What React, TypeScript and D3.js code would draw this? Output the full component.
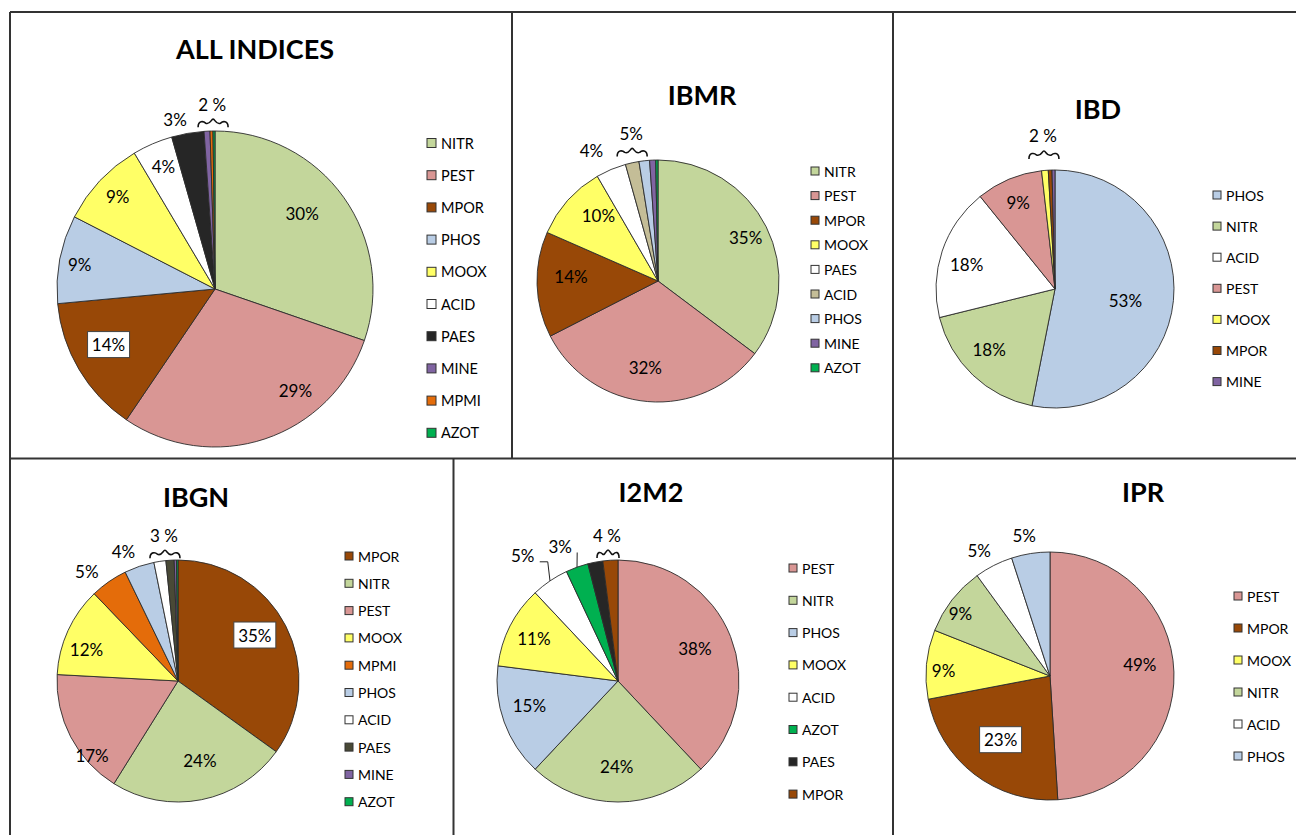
import React, { useEffect, useRef } from "react";
import * as d3 from "d3";

const W = 1296;
const H = 835;
const FONT = "Lato, 'Open Sans', sans-serif";

// ALL INDICES
const allCats = ["NITR", "PEST", "MPOR", "PHOS", "MOOX", "ACID", "PAES", "MINE", "MPMI", "AZOT"];
const allVals = [30.2, 29.1, 14.0, 9.0, 8.9, 4.1, 3.3, 0.6, 0.3, 0.2];
const allPcts = ["30%", "29%", "14%", "9%", "9%", "4%", "3%", "", "", ""];

// IBMR
const ibmrCats = ["NITR", "PEST", "MPOR", "MOOX", "PAES", "ACID", "PHOS", "MINE", "AZOT"];
const ibmrVals = [35.0, 32.0, 14.0, 10.0, 4.0, 1.8, 1.4, 0.8, 0.3];
const ibmrPcts = ["35%", "32%", "14%", "10%", "4%", "", "", "", ""];

// IBD
const ibdCats = ["PHOS", "NITR", "ACID", "PEST", "MOOX", "MPOR", "MINE"];
const ibdVals = [53.0, 18.0, 18.0, 9.0, 0.9, 0.5, 0.4];
const ibdPcts = ["53%", "18%", "18%", "9%", "", "", ""];

// IBGN
const ibgnCats = ["MPOR", "NITR", "PEST", "MOOX", "MPMI", "PHOS", "ACID", "PAES", "MINE", "AZOT"];
const ibgnVals = [35.0, 24.0, 17.0, 12.0, 5.0, 4.0, 1.6, 1.1, 0.3, 0.2];
const ibgnPcts = ["35%", "24%", "17%", "12%", "5%", "4%", "", "", "", ""];

// I2M2
const i2m2Cats = ["PEST", "NITR", "PHOS", "MOOX", "ACID", "AZOT", "PAES", "MPOR"];
const i2m2Vals = [38.0, 24.0, 15.0, 11.0, 5.0, 3.0, 2.0, 2.0];
const i2m2Pcts = ["38%", "24%", "15%", "11%", "5%", "3%", "", ""];

// IPR
const iprCats = ["PEST", "MPOR", "MOOX", "NITR", "ACID", "PHOS"];
const iprVals = [49.0, 23.0, 9.0, 9.0, 5.0, 5.0];
const iprPcts = ["49%", "23%", "9%", "9%", "5%", "5%"];

const colors: Record<string, string> = {
  NITR: "#c3d69b",
  PEST: "#d99694",
  MPOR: "#984807",
  PHOS: "#b9cde5",
  MOOX: "#ffff66",
  ACID: "#ffffff",
  PAES: "#262626",
  MINE: "#8064a2",
  MPMI: "#e46c0a",
  AZOT: "#00b050",
};

const panels: any[] = [
  {
    title: "ALL INDICES", cats: allCats, vals: allVals, pcts: allPcts,
    cx: 215, cy: 289, r: 158, tx: 255, ty: 48,
    lab: [[0.45, 0.73], [0.31, 0.82], [0.56, 0.76], [0.48, 0.87], [0.51, 0.85], [0.53, 0.84], [0.22, 1.1]],
    boxed: [2],
    group: { text: "2 %", ang: -0.9, rf: 1.17, w: 30 },
    leg: { x: 427, y: 143, dy: 32.2, size: 9, fs: 14.5 },
  },
  {
    title: "IBMR", cats: ibmrCats, vals: ibmrVals, pcts: ibmrPcts,
    cx: 658, cy: 281, r: 121, tx: 702, ty: 94,
    lab: [[0.5, 0.81], [0.53, 0.72], [0.59, 0.72], [0.66, 0.73], [0.21, 1.21]],
    boxed: [],
    group: { text: "5%", ang: -10.3, rf: 1.24, w: 30 },
    leg: { x: 811, y: 171, dy: 24.6, size: 8, fs: 14 },
    over: { PAES: "#ffffff", ACID: "#c4bd97" },
  },
  {
    title: "IBD", cats: ibdCats, vals: ibdVals, pcts: ibdPcts,
    cx: 1055, cy: 289, r: 119, tx: 1098, ty: 108,
    lab: [[0.52, 0.6], [0.56, 0.75], [0.45, 0.77], [0.49, 0.79]],
    boxed: [],
    group: { text: "2 %", ang: -4.5, rf: 1.29, w: 30 },
    leg: { x: 1213, y: 195, dy: 31.1, size: 8, fs: 14 },
  },
  {
    title: "IBGN", cats: ibgnCats, vals: ibgnVals, pcts: ibgnPcts,
    cx: 178, cy: 681, r: 121, tx: 196, ty: 496,
    lab: [[0.47, 0.74], [0.45, 0.68], [0.28, 0.94], [0.37, 0.8], [0.23, 1.18], [0.21, 1.16]],
    boxed: [0],
    group: { text: "3 %", ang: -5.5, rf: 1.21, w: 30 },
    leg: { x: 345, y: 556, dy: 27.3, size: 8, fs: 14 },
    over: { PAES: "#494936" },
  },
  {
    title: "I2M2", cats: i2m2Cats, vals: i2m2Vals, pcts: i2m2Pcts,
    cx: 618, cy: 681, r: 121, tx: 651, ty: 491,
    lab: [[0.49, 0.69], [0.51, 0.71], [0.58, 0.76], [0.5, 0.78], [0.33, 1.3], [0.18, 1.21]],
    boxed: [],
    group: { text: "4 %", ang: -4.3, rf: 1.21, w: 22 },
    leaders: [[4, true], [5, false]],
    leg: { x: 789, y: 568, dy: 32.3, size: 8, fs: 14 },
  },
  {
    title: "IPR", cats: iprCats, vals: iprVals, pcts: iprPcts,
    cx: 1050, cy: 676, r: 124, tx: 1143, ty: 491,
    lab: [[0.47, 0.73], [0.5, 0.65], [0.43, 0.86], [0.41, 0.88], [0.36, 1.16], [0.42, 1.15]],
    boxed: [1],
    group: null,
    leg: { x: 1234, y: 596, dy: 32, size: 8, fs: 14 },
  },
];

function polar(cx: number, cy: number, a: number, rho: number) {
  return [cx + rho * Math.sin(a), cy - rho * Math.cos(a)];
}

export default function App() {
  const ref = useRef<SVGSVGElement>(null);

  useEffect(() => {
    const svg = d3.select(ref.current);
    svg.selectAll("*").remove();

    svg.append("rect").attr("width", W).attr("height", H).attr("fill", "#fff");

    // frame lines
    const frame = svg.append("g").attr("stroke", "#333").attr("stroke-width", 2).attr("fill", "none");
    const lines = [
      [10, 12, W, 12],
      [10, 12, 10, H],
      [10, 458.5, W, 458.5],
      [512, 12, 512, 458.5],
      [893, 12, 893, H],
      [453.5, 458.5, 453.5, H],
    ];
    lines.forEach(l => {
      frame.append("line").attr("x1", l[0]).attr("y1", l[1]).attr("x2", l[2]).attr("y2", l[3]);
    });

    panels.forEach(p => {
      const g = svg.append("g");
      const col = (c: string) => (p.over && p.over[c]) || colors[c];
      const pie = d3.pie<number>().sort(null).value(d => d);
      const arcs = pie(p.vals);
      const arc = d3.arc<d3.PieArcDatum<number>>().innerRadius(0).outerRadius(p.r);

      // title
      g.append("text")
        .attr("x", p.tx).attr("y", p.ty)
        .attr("text-anchor", "middle").attr("dominant-baseline", "central")
        .attr("font-family", FONT).attr("font-weight", "bold").attr("font-size", 27)
        .attr("fill", "#000")
        .text(p.title);

      // slices
      g.append("g")
        .attr("transform", "translate(" + p.cx + "," + p.cy + ")")
        .selectAll("path")
        .data(arcs)
        .enter().append("path")
        .attr("d", arc as any)
        .attr("fill", (d, i) => col(p.cats[i]))
        .attr("stroke", "#2b2b2b")
        .attr("stroke-width", 0.9);

      // percentage labels
      p.lab.forEach((lp: number[], i: number) => {
        const a = arcs[i];
        const ang = a.startAngle + (a.endAngle - a.startAngle) * lp[0];
        const [x, y] = polar(p.cx, p.cy, ang, p.r * lp[1]);
        if (p.boxed.indexOf(i) >= 0) {
          g.append("rect")
            .attr("x", x - 21).attr("y", y - 13)
            .attr("width", 42).attr("height", 26)
            .attr("fill", "#fff").attr("stroke", "#444").attr("stroke-width", 1);
        }
        g.append("text")
          .attr("x", x).attr("y", y)
          .attr("text-anchor", "middle").attr("dominant-baseline", "central")
          .attr("font-family", FONT).attr("font-size", 17).attr("fill", "#000")
          .text(p.pcts[i]);
      });

      // leader lines
      (p.leaders || []).forEach((ld: any[]) => {
        const i = ld[0];
        const a = arcs[i];
        const ang = a.startAngle + (a.endAngle - a.startAngle) * p.lab[i][0];
        const [lx, ly] = polar(p.cx, p.cy, ang, p.r * p.lab[i][1]);
        const mid = (a.startAngle + a.endAngle) / 2;
        const edge = polar(p.cx, p.cy, mid, p.r);
        const pts: number[][] = ld[1]
          ? [[lx + 17, ly + 6], [lx + 25, ly + 6], edge]
          : [[lx + 17, ly + 6], edge];
        g.append("path")
          .attr("d", d3.line()(pts as [number, number][]))
          .attr("fill", "none").attr("stroke", "#222").attr("stroke-width", 1);
      });

      // grouped small slices: label + brace
      if (p.group) {
        const gr = p.group;
        const [x, y] = polar(p.cx, p.cy, gr.ang * Math.PI / 180, p.r * gr.rf);
        g.append("text")
          .attr("x", x).attr("y", y)
          .attr("text-anchor", "middle").attr("dominant-baseline", "central")
          .attr("font-family", FONT).attr("font-size", 17).attr("fill", "#000")
          .text(gr.text);
        const hw = gr.w / 2;
        const by = y + 19;
        const bx = x + 1;
        const d = "M" + (bx - hw) + "," + (by + 4) +
          " C" + (bx - hw) + "," + (by - 3) + " " + (bx - hw / 2 - 2) + "," + (by - 2) + " " + (bx - hw / 2) + "," + by +
          " C" + (bx - 3) + "," + (by + 2) + " " + (bx - 2) + "," + (by - 4) + " " + bx + "," + (by - 4) +
          " C" + (bx + 2) + "," + (by - 4) + " " + (bx + 3) + "," + (by + 2) + " " + (bx + hw / 2) + "," + by +
          " C" + (bx + hw / 2 + 2) + "," + (by - 2) + " " + (bx + hw) + "," + (by - 3) + " " + (bx + hw) + "," + (by + 4);
        g.append("path").attr("d", d).attr("fill", "none").attr("stroke", "#111").attr("stroke-width", 1.6);
      }

      // legend
      const lg = g.append("g");
      p.cats.forEach((c: string, i: number) => {
        const y = p.leg.y + i * p.leg.dy;
        lg.append("rect")
          .attr("x", p.leg.x).attr("y", y - p.leg.size / 2)
          .attr("width", p.leg.size).attr("height", p.leg.size)
          .attr("fill", col(c)).attr("stroke", "#333").attr("stroke-width", 1);
        lg.append("text")
          .attr("x", p.leg.x + p.leg.size + 5).attr("y", y)
          .attr("dominant-baseline", "central")
          .attr("font-family", FONT).attr("font-size", p.leg.fs).attr("fill", "#000")
          .text(c);
      });
    });
  }, []);

  return (
    <svg ref={ref} width={W} height={H} style={{ position: "absolute", left: 0, top: 0 }}></svg>
  );
}
